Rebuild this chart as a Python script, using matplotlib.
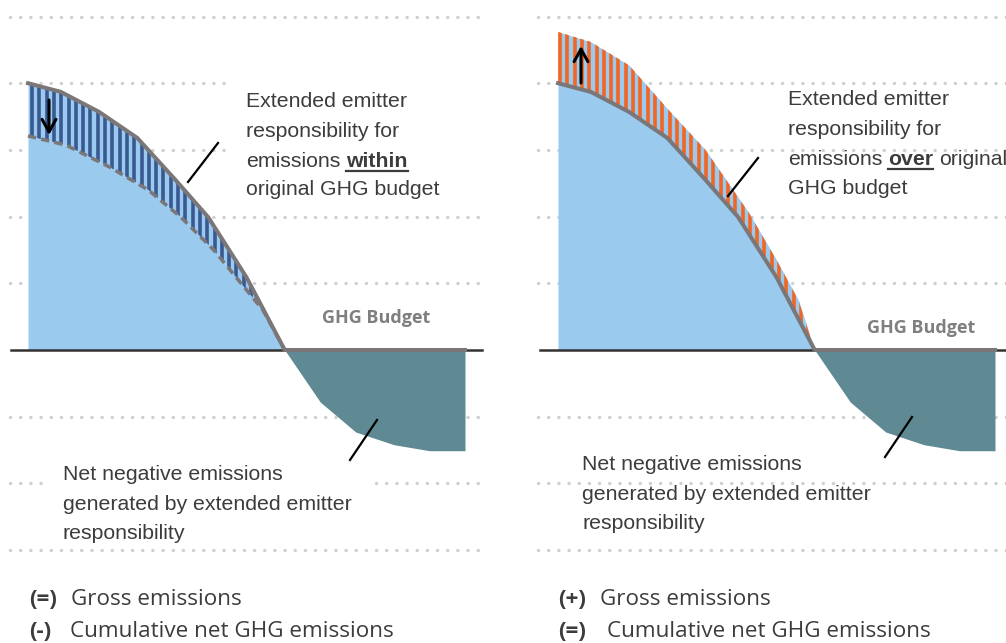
import numpy as np
import matplotlib
matplotlib.use("Agg")
import matplotlib.pyplot as plt
from matplotlib.patches import Rectangle
from matplotlib.lines import Line2D

# schematic pathways, arbitrary emission units against year
years_orig = [2020, 2026, 2033, 2040, 2047, 2053, 2060, 2067]
gross_orig = [4.00, 3.87, 3.57, 3.18, 2.55, 1.99, 1.09, 0.00]

# left panel: responsibility within the budget (net pathway lowered)
years_within = [2020, 2027, 2035, 2042, 2048, 2054, 2059, 2063, 2067]
net_within = [3.21, 3.07, 2.74, 2.40, 1.99, 1.50, 1.00, 0.60, 0.00]

# right panel: responsibility over the budget (gross pathway raised)
years_over = [2020, 2026, 2033, 2040, 2047, 2055, 2060, 2064, 2067]
gross_over = [4.77, 4.62, 4.27, 3.62, 3.00, 2.05, 1.35, 0.75, 0.00]

# net negative emissions after the zero crossing
years_neg = [2067, 2073.5, 2080, 2087, 2093.5, 2100]
net_neg = [0.00, -0.78, -1.23, -1.42, -1.51, -1.51]
budget_end = 2100

grid_levels = [5, 4, 3, 2, 1, -1, -2, -3]

BLUE = "#9ACAEE"
NAVY = "#3A5891"
ORANGE = "#F26522"
TEAL = "#5F8A93"
GREY = "#7B7778"
TXT = "#3C3C3C"

W, H = 1006, 643
S = 5.4625   # px per year
U = 66.7     # px per unit

plt.rcParams["font.family"] = ["Liberation Sans", "DejaVu Sans"]

fig = plt.figure(figsize=(W / 100, H / 100), dpi=100)
T = fig.dpi_scale_trans


def P(px, py):
    return px / 100.0, (H - py) / 100.0


def yr(px_local):
    return 2020 + (px_local - 28) / S


def make_axes(left_px, right_px):
    ax = fig.add_axes([left_px / W, 0, (right_px - left_px) / W, 1])
    ax.set_xlim(yr(0), yr(right_px - left_px))
    ax.set_ylim(-(H - 350) / U, 350 / U)
    ax.axis("off")
    return ax


def grid(ax, a, b):
    for lv in grid_levels:
        ax.plot([yr(a), yr(b)], [lv, lv], color="#CFCFCF", lw=2.4,
                linestyle=(0, (0.05, 3.0)), dash_capstyle="round", zorder=1)


def white_box(ax, x0, y0, x1, y1):
    ax.add_patch(Rectangle(P(x0, y1), (x1 - x0) / 100, (y1 - y0) / 100,
                           transform=T, fc="white", ec="none", zorder=1.5))


def band(ax, xa, ya, xb, yb, color, start_px):
    xs = np.union1d(xa, xb)
    lo = np.interp(xs, xa, ya)
    hi = np.interp(xs, xb, yb)
    poly = ax.fill_between(xs, lo, hi, color=BLUE, lw=0, zorder=2)
    pos = np.arange(yr(start_px), xs[-1], 7.3 / S)
    vl = ax.vlines(pos, -1, 6, colors=color, lw=2.6, zorder=2.5)
    vl.set_clip_path(poly.get_paths()[0], ax.transData)


def line_px(ax, x1, y1, x2, y2):
    ax.add_line(Line2D([x1 / 100, x2 / 100], [(H - y1) / 100, (H - y2) / 100],
                       transform=T, color="black", lw=1.6, zorder=6))


def arrow_px(ax, x, y_from, y_to):
    ax.annotate("", xy=P(x, y_to), xytext=P(x, y_from), xycoords=T, textcoords=T,
                arrowprops=dict(arrowstyle="->,head_length=0.9,head_width=0.5",
                                lw=2.2, color="black", shrinkA=0, shrinkB=0),
                zorder=6)


def text_px(ax, px, py, s, **kw):
    kw.setdefault("fontsize", 15.3)
    kw.setdefault("color", TXT)
    return ax.text(*P(px, py), s, transform=T, va="baseline", ha="left", zorder=7, **kw)


def mixed_line(ax, px, py, parts):
    r = fig.canvas.get_renderer()
    x = px
    for s, bold in parts:
        t = text_px(ax, x, py, s, fontweight="bold" if bold else "normal")
        bb = t.get_window_extent(renderer=r)
        if bold:
            ax.add_line(Line2D([x / 100, bb.x1 / 100], [(H - py - 4) / 100] * 2,
                               transform=T, color=TXT, lw=1.6, zorder=7))
        x = bb.x1 + 6


def legend(ax, px, sign, gap, label, py):
    text_px(ax, px, py, sign, family=["Open Sans", "DejaVu Sans"],
            fontsize=16.2, fontweight="bold", color=TXT)
    text_px(ax, px + gap, py, label, family=["Open Sans", "DejaVu Sans"],
            fontsize=16.2, color=TXT)


# ---------------- left panel ----------------
axL = make_axes(0, 503)
grid(axL, 10, 480)
white_box(axL, 228, 72, 490, 205)
white_box(axL, 43, 445, 375, 546)

axL.fill_between(years_within, net_within, 0, color=BLUE, lw=0, zorder=2)
band(axL, years_within, net_within, years_orig, gross_orig, NAVY, 32)
axL.fill_between(years_neg, net_neg, 0, color=TEAL, lw=0, zorder=2)
axL.plot([yr(11), yr(482)], [0, 0], color="#333333", lw=1.8, zorder=3)
axL.plot(years_within, net_within, color=GREY, lw=2.5,
         linestyle=(0, (2.4, 1.5)), zorder=3.5)
axL.plot(years_orig + [budget_end], gross_orig + [0], color=GREY, lw=2.9, zorder=4)

arrow_px(axL, 49, 100, 135)
line_px(axL, 188, 182, 218, 143)
line_px(axL, 350, 460, 377, 420)

text_px(axL, 246, 107, "Extended emitter")
text_px(axL, 246, 137, "responsibility for")
mixed_line(axL, 246, 167, [("emissions", False), ("within", True)])
text_px(axL, 246, 195, "original GHG budget")

text_px(axL, 322, 323, "GHG Budget", family=["Open Sans", "DejaVu Sans"],
        fontsize=13, fontweight="bold", color="#7F7F7F")

text_px(axL, 63, 480, "Net negative emissions")
text_px(axL, 63, 510, "generated by extended emitter")
text_px(axL, 63, 539, "responsibility")

legend(axL, 29, "(=)", 42, "Gross emissions", 605)
legend(axL, 29, "(-)", 41, "Cumulative net GHG emissions", 637)

# ---------------- right panel ----------------
OFF = 530
axR = make_axes(OFF, W)
grid(axR, 8, 480)
white_box(axR, 770 - OFF, 72, 490, 205)
white_box(axR, 563 - OFF, 440, 902 - OFF, 545)

axR.fill_between(years_orig, gross_orig, 0, color=BLUE, lw=0, zorder=2)
band(axR, years_orig, gross_orig, years_over, gross_over, ORANGE, 560 - OFF)
axR.fill_between(years_neg, net_neg, 0, color=TEAL, lw=0, zorder=2)
axR.plot([yr(10), yr(480)], [0, 0], color="#333333", lw=1.8, zorder=3)
axR.plot(years_orig + [budget_end], gross_orig + [0], color=GREY, lw=2.9, zorder=4)

arrow_px(axR, 581, 83, 46)
line_px(axR, 728, 196, 758, 158)
line_px(axR, 885, 457, 912, 417)

text_px(axR, 788, 105, "Extended emitter")
text_px(axR, 788, 135, "responsibility for")
mixed_line(axR, 788, 165, [("emissions", False), ("over", True), ("original", False)])
text_px(axR, 788, 194, "GHG budget")

text_px(axR, 867, 333, "GHG Budget", family=["Open Sans", "DejaVu Sans"],
        fontsize=13, fontweight="bold", color="#7F7F7F")

text_px(axR, 582, 470, "Net negative emissions")
text_px(axR, 582, 500, "generated by extended emitter")
text_px(axR, 582, 529, "responsibility")

legend(axR, 558, "(+)", 42, "Gross emissions", 605)
legend(axR, 558, "(=)", 49, "Cumulative net GHG emissions", 637)

fig.savefig("out.png", dpi=100)
